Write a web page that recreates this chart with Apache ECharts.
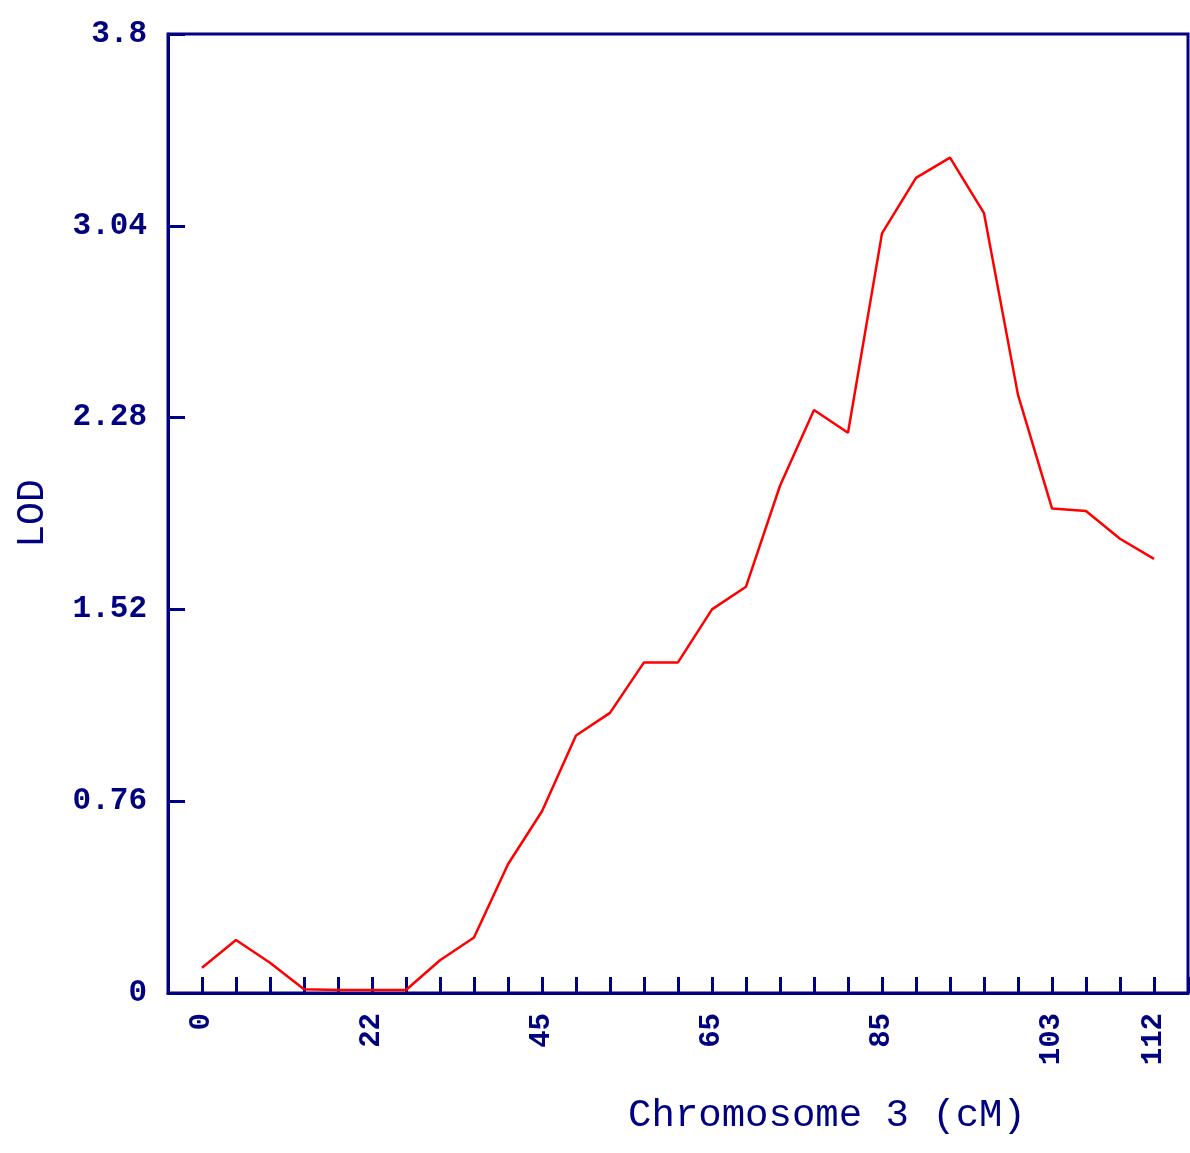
<!DOCTYPE html>
<html>
<head>
<meta charset="utf-8">
<script src="https://cdn.jsdelivr.net/npm/echarts@6/dist/echarts.min.js"></script>
<style>
  html, body { margin: 0; padding: 0; background: #fff; }
  #main { width: 1190px; height: 1153px; }
</style>
</head>
<body>
<div id="main"></div>
<script>
// marker index along the chromosome (evenly spaced on the plot)
const markerIdx = [0, 1, 2, 3, 4, 5, 6, 7, 8, 9, 10, 11, 12, 13, 14, 15, 16, 17, 18, 19, 20, 21, 22, 23, 24, 25, 26, 27, 28];
// cM label shown under some markers ('' = tick only)
const cmLabels = ['0', '', '', '', '', '22', '', '', '', '', '45', '', '', '', '', '65', '', '', '', '', '85', '', '', '', '', '103', '', '', '112'];
// LOD score at each marker
const lod = [0.10, 0.21, 0.12, 0.015, 0.012, 0.012, 0.012, 0.13, 0.22, 0.51, 0.72, 1.02, 1.11, 1.31, 1.31,
  1.52, 1.61, 2.01, 2.31, 2.22, 3.01, 3.23, 3.31, 3.09, 2.37, 1.92, 1.91, 1.80, 1.72];
// y tick labels
const yTicks = ['0', '0.76', '1.52', '2.28', '3.04', '3.8'];

const navy = '#000080';
const font = 'Liberation Mono';

let myChart = echarts.init(document.getElementById('main'));

let option = {
  animation: false,
  grid: {
    left: 168, right: 2, top: 34, bottom: 160,
    show: true, borderColor: navy, borderWidth: 3
  },
  xAxis: {
    type: 'value',
    min: -1, max: 29, interval: 1,
    name: 'Chromosome 3 (cM)',
    nameLocation: 'middle',
    nameGap: 103,
    nameTextStyle: { color: navy, fontFamily: font, fontSize: 39, padding: [0, 0, 0, 298] },
    axisLine: { onZero: false, lineStyle: { color: navy, width: 3 } },
    axisTick: { inside: true, length: 16, lineStyle: { color: navy, width: 3 } },
    splitLine: { show: false },
    axisLabel: {
      rotate: 90, margin: 20,
      color: navy, fontFamily: font, fontSize: 29, fontWeight: 'bold',
      formatter: v => (v >= 0 && v < cmLabels.length) ? cmLabels[v] : ''
    }
  },
  yAxis: {
    type: 'value',
    min: 0, max: 3.8, interval: 0.76,
    name: 'LOD',
    nameLocation: 'middle',
    nameGap: 116,
    nameTextStyle: { color: navy, fontFamily: font, fontSize: 38 },
    axisLine: { show: true, onZero: false, lineStyle: { color: navy, width: 3 } },
    axisTick: { show: true, inside: true, length: 17, lineStyle: { color: navy, width: 3 } },
    splitLine: { show: false },
    axisLabel: {
      margin: 21,
      color: navy, fontFamily: font, fontSize: 31, fontWeight: 'bold',
      formatter: v => yTicks[Math.round(v / 0.76)]
    }
  },
  series: [{
    type: 'line',
    data: markerIdx.map((x, i) => [x, lod[i]]),
    showSymbol: false,
    lineStyle: { color: '#ff0000', width: 2.5 }
  }]
};

myChart.setOption(option);
</script>
</body>
</html>
